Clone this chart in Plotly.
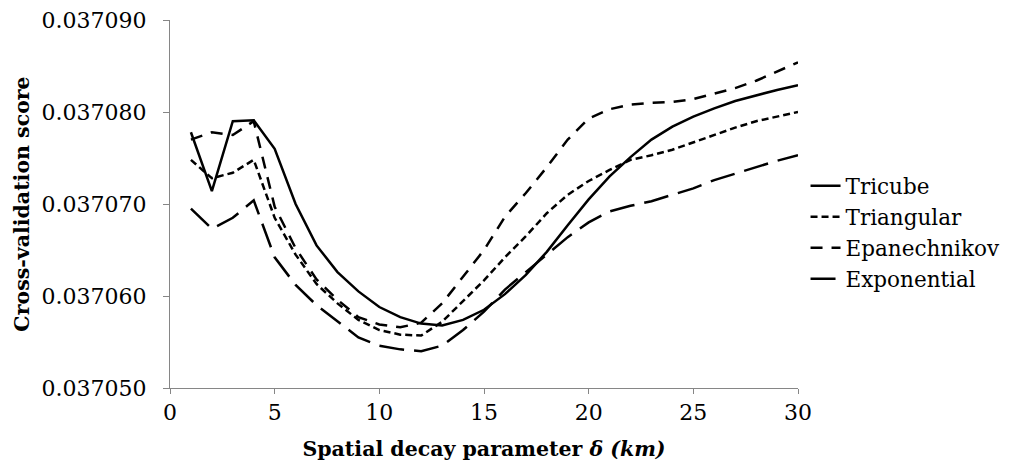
import plotly.graph_objects as go

delta = list(range(1, 31))

tricube = [0.0370778, 0.0370714, 0.0370790, 0.0370791, 0.0370760, 0.0370700, 0.0370655, 0.0370626,
           0.0370605, 0.0370588, 0.0370577, 0.0370570, 0.0370568, 0.0370574, 0.0370585, 0.0370602,
           0.0370623, 0.0370648, 0.0370677, 0.0370705, 0.0370730, 0.0370751, 0.0370770, 0.0370784,
           0.0370795, 0.0370804, 0.0370812, 0.0370818, 0.0370824, 0.0370829]

triangular = [0.0370748, 0.0370728, 0.0370734, 0.0370748, 0.0370685, 0.0370645, 0.0370613, 0.0370592,
              0.0370574, 0.0370563, 0.0370558, 0.0370557, 0.0370572, 0.0370595, 0.0370617, 0.0370642,
              0.0370665, 0.0370690, 0.0370710, 0.0370725, 0.0370737, 0.0370748, 0.0370753, 0.0370759,
              0.0370767, 0.0370775, 0.0370783, 0.0370790, 0.0370795, 0.0370800]

epanechnikov = [0.0370770, 0.0370778, 0.0370775, 0.0370790, 0.0370697, 0.0370652, 0.0370618, 0.0370596,
                0.0370577, 0.0370569, 0.0370566, 0.0370571, 0.0370592, 0.0370621, 0.0370650, 0.0370686,
                0.0370712, 0.0370740, 0.0370770, 0.0370793, 0.0370803, 0.0370808, 0.0370810, 0.0370811,
                0.0370814, 0.0370820, 0.0370826, 0.0370834, 0.0370844, 0.0370854]

exponential = [0.0370695, 0.0370673, 0.0370685, 0.0370704, 0.0370642, 0.0370612, 0.0370590, 0.0370572,
               0.0370555, 0.0370546, 0.0370542, 0.0370540, 0.0370546, 0.0370563, 0.0370583, 0.0370607,
               0.0370626, 0.0370646, 0.0370664, 0.0370680, 0.0370692, 0.0370698, 0.0370703, 0.0370710,
               0.0370717, 0.0370726, 0.0370733, 0.0370740, 0.0370747, 0.0370753]

series = [
    ("Tricube", tricube, "solid"),
    ("Triangular", triangular, "7px,4px"),
    ("Epanechnikov", epanechnikov, "12px,9px"),
    ("Exponential", exponential, "25px,10px"),
]

x_ticks = [0, 5, 10, 15, 20, 25, 30]
y_ticks = [0.03705, 0.03706, 0.03707, 0.03708, 0.03709]

FONT = "DejaVu Serif"

fig = go.Figure()
for name, vals, dash in series:
    fig.add_trace(go.Scatter(x=delta, y=vals, mode="lines", name=name,
                             line=dict(color="black", width=2.5, dash=dash)))

fig.update_layout(
    width=1010, height=469,
    margin=dict(l=162, r=218, t=12, b=89),
    paper_bgcolor="white", plot_bgcolor="white",
    font=dict(family=FONT, size=22, color="black"),
    showlegend=True,
    legend=dict(x=1.012, y=0.605, xanchor="left", yanchor="top",
                font=dict(family=FONT, size=21.5), tracegroupgap=0,
                itemwidth=30, borderwidth=0, bgcolor="rgba(0,0,0,0)"),
    xaxis=dict(range=[0, 30], tickvals=x_ticks, ticktext=[str(v) for v in x_ticks],
               automargin=False, tickfont=dict(family=FONT, size=22), ticklabeloverflow="allow",
               showgrid=False, zeroline=False, showline=True, linecolor="#868686", linewidth=1,
               ticks="outside", ticklen=5, tickcolor="#868686", ticklabelstandoff=0,
               title=dict(text="<b>Spatial decay parameter <i>δ (km)</i></b>",
                          font=dict(family=FONT, size=20.5), standoff=17)),
    yaxis=dict(range=[0.03705, 0.03709], tickvals=y_ticks,
               ticktext=["%.6f" % v for v in y_ticks],
               automargin=False, tickfont=dict(family=FONT, size=22), ticklabeloverflow="allow",
               showgrid=False, zeroline=False, showline=True, linecolor="#868686", linewidth=1,
               ticks="outside", ticklen=6, tickcolor="#868686", ticklabelstandoff=12,
               title=dict(text="<b>Cross-validation score</b>",
                          font=dict(family=FONT, size=20.5), standoff=6)),
)

fig.write_html("out.html")
